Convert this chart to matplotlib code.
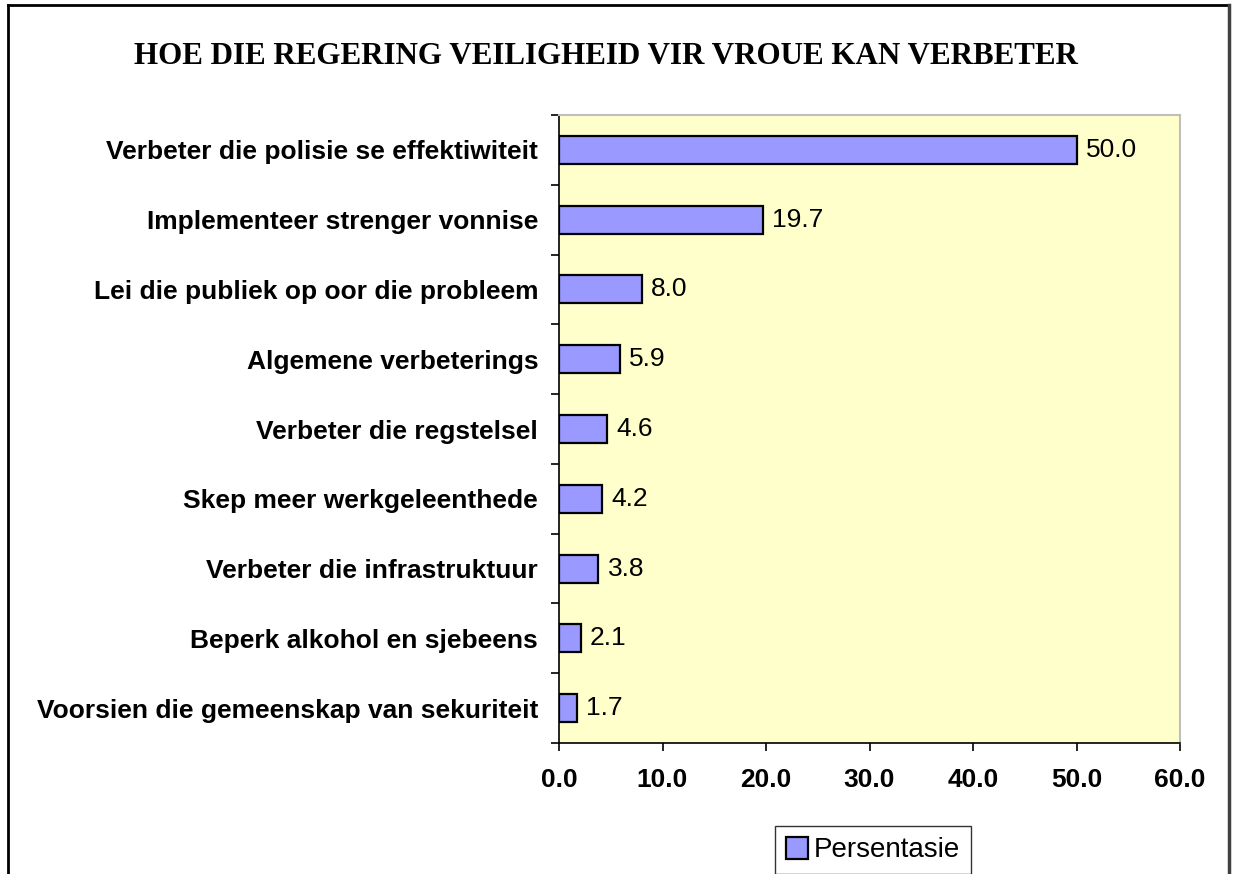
import matplotlib

matplotlib.use("Agg")
import matplotlib.pyplot as plt
from matplotlib.lines import Line2D

categories = [
    "Verbeter die polisie se effektiwiteit",
    "Implementeer strenger vonnise",
    "Lei die publiek op oor die probleem",
    "Algemene verbeterings",
    "Verbeter die regstelsel",
    "Skep meer werkgeleenthede",
    "Verbeter die infrastruktuur",
    "Beperk alkohol en sjebeens",
    "Voorsien die gemeenskap van sekuriteit",
]
values = [50.0, 19.7, 8.0, 5.9, 4.6, 4.2, 3.8, 2.1, 1.7]
x_ticks = [0, 10, 20, 30, 40, 50, 60]
title = "HOE DIE REGERING VEILIGHEID VIR VROUE KAN VERBETER"
series_name = "Persentasie"

W, H = 1235, 874
fig = plt.figure(figsize=(W / 100, H / 100), dpi=100)
fig.patch.set_facecolor("white")


def px(x, y):
    return x / W, 1 - y / H


# outer frame (no bottom edge, grey shadow on the right)
for (x0, y0), (x1, y1), c, lw in [
    ((8, 880), (8, 5), "black", 2.0),
    ((8, 5), (1229, 5), "black", 2.0),
    ((1229, 5), (1229, 880), "#404040", 2.5),
]:
    a, b = px(x0, y0)
    c2, d = px(x1, y1)
    fig.add_artist(Line2D([a, c2], [b, d], color=c, lw=lw, transform=fig.transFigure))

left, right, top, bottom = 559, 1180, 115, 743
ax = fig.add_axes([left / W, 1 - bottom / H, (right - left) / W, (bottom - top) / H])
ax.set_facecolor("#FFFFCC")

y = list(range(len(categories)))
ax.barh(y, values, height=0.4, color="#9999FF", edgecolor="black", linewidth=1.6, label=series_name)
for yi, v in zip(y, values):
    ax.text(v + 0.9, yi, f"{v:.1f}", va="center", ha="left", fontsize=19,
            family="Liberation Sans")

ax.set_ylim(len(categories) - 0.5, -0.5)
ax.set_xlim(0, 60)
ax.set_xticks(x_ticks)
ax.set_xticklabels([f"{t:.1f}" for t in x_ticks], fontsize=19, fontweight="bold",
                   family="Liberation Sans")
ax.set_yticks(y)
ax.set_yticklabels(categories, fontsize=19, fontweight="bold", family="Liberation Sans")
ax.set_yticks([i - 0.5 for i in range(len(categories) + 1)], minor=True)
ax.tick_params(axis="y", which="major", length=0, pad=15)
ax.tick_params(axis="y", which="minor", length=6, width=1.2, direction="out", color="black")
ax.tick_params(axis="x", length=6, width=1.2, direction="out", pad=12, color="black")

for side in ["top", "right"]:
    ax.spines[side].set_color("#BFBFBF")
    ax.spines[side].set_linewidth(1.5)
for side in ["left", "bottom"]:
    ax.spines[side].set_color("black")
    ax.spines[side].set_linewidth(1.2)

fig.text(606 / W, 1 - 56 / H, title, ha="center", va="center", fontsize=22.3,
         fontweight="bold", family="Liberation Serif")

leg = fig.legend(loc="center", bbox_to_anchor=(873 / W, 1 - 850 / H), frameon=True,
                 fancybox=False, edgecolor="black", handlelength=0.8, handleheight=0.85,
                 handletextpad=0.2, borderpad=0.4, borderaxespad=0,
                 prop={"family": "Liberation Sans", "size": 20})
leg.get_frame().set_linewidth(1.0)

fig.savefig("out.png", dpi=100)
